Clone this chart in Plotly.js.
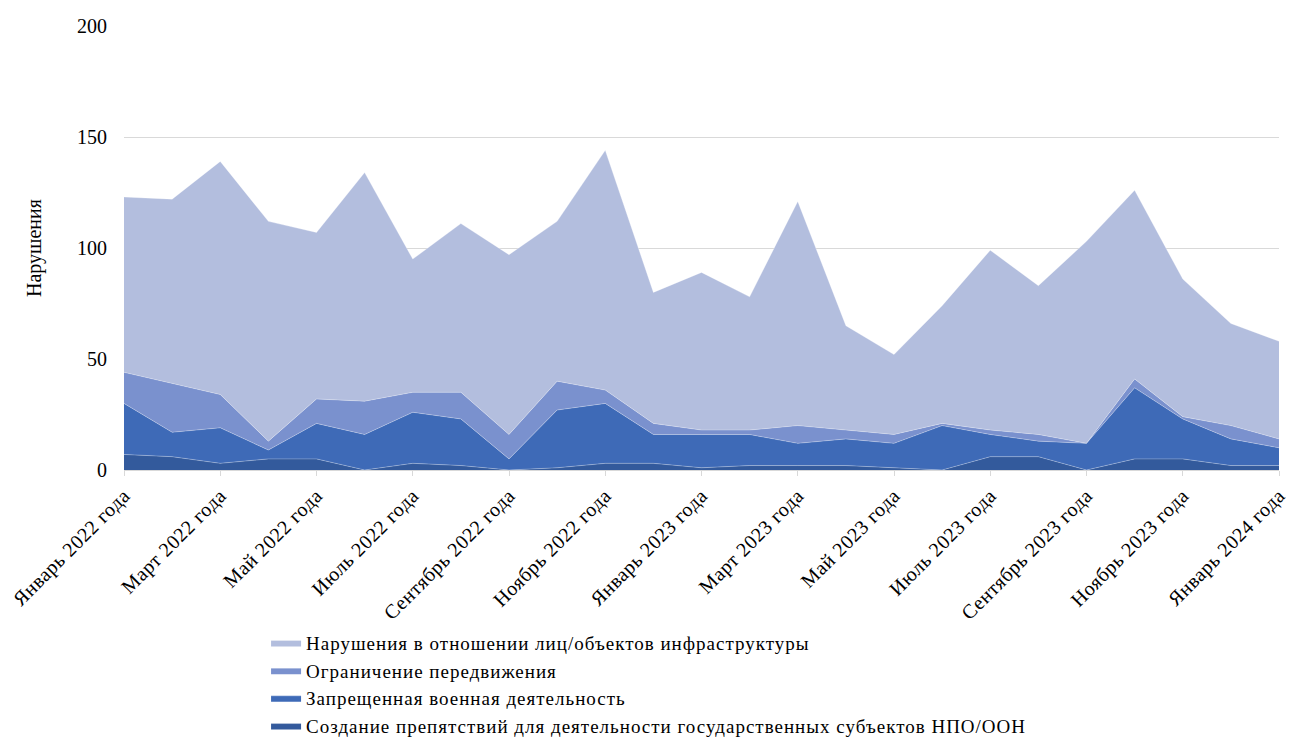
<!DOCTYPE html>
<html>
<head>
<meta charset="utf-8">
<script src="https://cdn.plot.ly/plotly-3.0.1.min.js"></script>
<style>
html,body{margin:0;padding:0;background:#fff;}
#chart{width:1289px;height:738px;}
.xtick text{letter-spacing:0.5px;}
text.legendtext{letter-spacing:1px;}
</style>
</head>
<body>
<div id="chart"></div>
<script>
const months = [
  "Январь 2022 года","Февраль 2022 года","Март 2022 года","Апрель 2022 года","Май 2022 года","Июнь 2022 года",
  "Июль 2022 года","Август 2022 года","Сентябрь 2022 года","Октябрь 2022 года","Ноябрь 2022 года","Декабрь 2022 года",
  "Январь 2023 года","Февраль 2023 года","Март 2023 года","Апрель 2023 года","Май 2023 года","Июнь 2023 года",
  "Июль 2023 года","Август 2023 года","Сентябрь 2023 года","Октябрь 2023 года","Ноябрь 2023 года","Декабрь 2023 года",
  "Январь 2024 года"
];
const tickLabels = months.filter((m, i) => i % 2 === 0);

const obstruction = [7,6,3,5,5,0,3,2,0,1,3,3,1,2,2,2,1,0,6,6,0,5,5,2,2];
const military    = [23,11,16,4,16,16,23,21,5,26,27,13,15,14,10,12,11,20,10,7,12,32,18,12,8];
const movement    = [14,22,15,4,11,15,9,12,11,13,6,5,2,2,8,4,4,1,2,3,0,4,1,6,4];
const infrastructure = [79,83,105,99,75,103,60,76,81,72,108,59,71,60,101,47,36,53,81,67,91,85,62,46,44];

const seriesNames = [
  "Создание препятствий для деятельности государственных субъектов НПО/ООН",
  "Запрещенная военная деятельность",
  "Ограничение передвижения",
  "Нарушения в отношении лиц/объектов инфраструктуры"
];
const colors = ["#335A9C", "#3E6AB7", "#7A91CE", "#B3BEDE"];
const values = [obstruction, military, movement, infrastructure];

const FONT = "Liberation Serif";

const traces = values.map((v, i) => ({
  type: "scatter",
  mode: "lines",
  x: months,
  y: v,
  name: seriesNames[i],
  stackgroup: "one",
  fillcolor: colors[i],
  line: {color: "rgba(255,255,255,0.35)", width: 0.8},
  hoverinfo: "x+y+name"
}));

const layout = {
  width: 1289,
  height: 738,
  margin: {l: 124, r: 10, t: 26, b: 268, autoexpand: false},
  paper_bgcolor: "#ffffff",
  plot_bgcolor: "#ffffff",
  font: {family: FONT, size: 20, color: "#000000"},
  showlegend: true,
  legend: {
    x: 0.123, y: -0.346, xanchor: "left", yanchor: "top",
    traceorder: "reversed",
    font: {family: FONT, size: 19, color: "#000000"},
    itemwidth: 30,
    tracegroupgap: 0,
    bgcolor: "rgba(0,0,0,0)"
  },
  xaxis: {
    type: "category",
    range: [0, 24],
    automargin: false,
    tickmode: "array",
    tickvals: tickLabels,
    ticktext: tickLabels,
    tickangle: -45,
    ticks: "outside",
    ticklen: 5,
    tickcolor: "#d9d9d9",
    showline: true,
    linecolor: "#d9d9d9",
    linewidth: 1,
    showgrid: false,
    zeroline: false,
    tickfont: {family: FONT, size: 20, color: "#000000"}
  },
  yaxis: {
    range: [0, 200],
    automargin: false,
    tickvals: [0, 50, 100, 150, 200],
    showgrid: true,
    gridcolor: "#d9d9d9",
    gridwidth: 1,
    zeroline: false,
    showline: false,
    ticks: "",
    ticklabelstandoff: 16,
    tickfont: {family: FONT, size: 20, color: "#000000"},
    title: {text: "Нарушения", standoff: 30, font: {family: FONT, size: 20, color: "#000000"}}
  }
};

Plotly.newPlot("chart", traces, layout, {displayModeBar: false, responsive: false});
</script>
</body>
</html>
